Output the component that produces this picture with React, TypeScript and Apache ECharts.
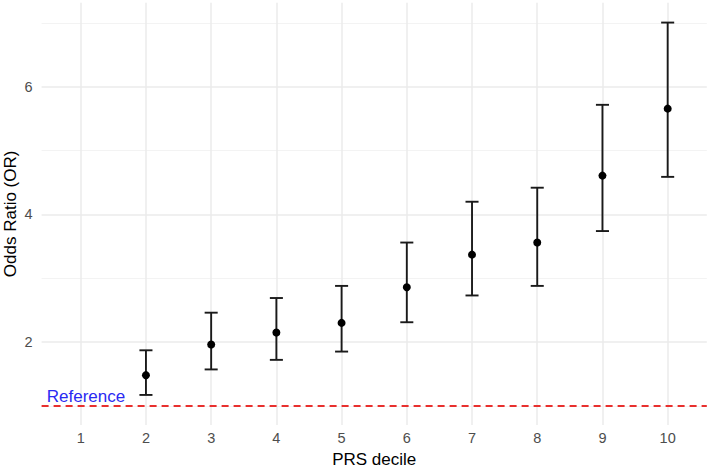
import React, { useEffect, useRef } from 'react';
import * as echarts from 'echarts';

// Categories (PRS deciles) shown on the x axis
const deciles = [1, 2, 3, 4, 5, 6, 7, 8, 9, 10];
// Deciles with an estimate (decile 1 is the reference)
const estDeciles = [2, 3, 4, 5, 6, 7, 8, 9, 10];
const orValues = [1.48, 1.96, 2.15, 2.3, 2.86, 3.37, 3.56, 4.61, 5.66];
const ciLower = [1.17, 1.57, 1.72, 1.85, 2.31, 2.73, 2.88, 3.74, 4.59];
const ciUpper = [1.87, 2.46, 2.69, 2.88, 3.56, 4.2, 4.42, 5.72, 7.01];
// Tick labels / gridlines on the y axis
const yMajorTicks = [2, 4, 6];
const yMinorTicks = [1, 3, 5, 7];
// Reference line and its annotation
const referenceOR = 1;
const referenceLabelPos = [1.08, 1.15];
const referenceLabelText = 'Reference';

const FONT = "'Liberation Sans', Arial, Helvetica, sans-serif";

export default function App() {
  const ref = useRef<HTMLDivElement>(null);

  useEffect(() => {
    document.body.style.margin = '0';
    const chart = echarts.init(ref.current!, undefined, { renderer: 'svg' });

    const gridLines: any[] = [
      ...yMinorTicks.map((v) => ({ yAxis: v, lineStyle: { color: '#f3f3f3', width: 1, type: 'solid' } })),
      ...yMajorTicks.map((v) => ({ yAxis: v, lineStyle: { color: '#ebebeb', width: 1.5, type: 'solid' } })),
      ...deciles.map((v) => ({ xAxis: v, lineStyle: { color: '#ebebeb', width: 1.5, type: 'solid' } })),
    ];

    const option: any = {
      animation: false,
      textStyle: { fontFamily: FONT },
      grid: {
        left: 41.6,
        top: 2.8,
        width: 665.2,
        height: 422.1,
        containLabel: false,
        outerBoundsMode: 'none',
      },
      xAxis: {
        type: 'value',
        min: 0.4,
        max: 10.6,
        name: 'PRS decile',
        nameLocation: 'middle',
        nameGap: 26,
        nameMoveOverlap: false,
        nameTextStyle: { color: '#000', fontSize: 17, fontFamily: FONT },
        axisLine: { show: false },
        axisTick: { show: false, customValues: deciles },
        splitLine: { show: false },
        axisLabel: {
          customValues: deciles,
          color: '#4d4d4d',
          fontSize: 14.5,
          margin: 6,
          fontFamily: FONT,
        },
      },
      yAxis: {
        type: 'value',
        min: 0.7,
        max: 7.32,
        name: 'Odds Ratio (OR)',
        nameLocation: 'middle',
        nameGap: 23,
        nameMoveOverlap: false,
        nameTextStyle: { color: '#000', fontSize: 17, fontFamily: FONT },
        axisLine: { show: false },
        axisTick: { show: false, customValues: yMajorTicks },
        splitLine: { show: false },
        axisLabel: {
          customValues: yMajorTicks,
          color: '#4d4d4d',
          fontSize: 14.5,
          margin: 9,
          fontFamily: FONT,
        },
      },
      series: [
        {
          type: 'scatter',
          data: [],
          z: 0,
          silent: true,
          markLine: {
            z: 0,
            silent: true,
            symbol: 'none',
            label: { show: false },
            animation: false,
            data: gridLines,
          },
        },
        {
          type: 'scatter',
          data: [],
          z: 1,
          silent: true,
          markLine: {
            z: 1,
            silent: true,
            symbol: 'none',
            label: { show: false },
            animation: false,
            data: [{ yAxis: referenceOR }],
            lineStyle: { color: '#e8302e', width: 1.8, type: [7, 5] },
          },
        },
        {
          type: 'custom',
          z: 3,
          silent: true,
          data: estDeciles.map((d, i) => [d, ciLower[i], ciUpper[i]]),
          renderItem: (params: any, api: any) => {
            const x = api.value(0);
            const lo = api.coord([x, api.value(1)]);
            const hi = api.coord([x, api.value(2)]);
            const half = api.size([0.1, 0])[0];
            const style = { stroke: '#1a1a1a', lineWidth: 1.9 };
            return {
              type: 'group',
              children: [
                { type: 'line', shape: { x1: lo[0], y1: lo[1], x2: hi[0], y2: hi[1] }, style },
                { type: 'line', shape: { x1: hi[0] - half, y1: hi[1], x2: hi[0] + half, y2: hi[1] }, style },
                { type: 'line', shape: { x1: lo[0] - half, y1: lo[1], x2: lo[0] + half, y2: lo[1] }, style },
              ],
            };
          },
        },
        {
          type: 'scatter',
          z: 4,
          silent: true,
          symbol: 'circle',
          symbolSize: 8,
          itemStyle: { color: '#000', opacity: 1 },
          data: estDeciles.map((d, i) => [d, orValues[i]]),
        },
        {
          type: 'custom',
          z: 5,
          silent: true,
          data: [referenceLabelPos],
          renderItem: (params: any, api: any) => {
            const p = api.coord([api.value(0), api.value(1)]);
            return {
              type: 'text',
              x: p[0],
              y: p[1],
              style: {
                text: referenceLabelText,
                fill: '#2a2af2',
                font: `17px ${FONT}`,
                align: 'center',
                verticalAlign: 'middle',
              },
            };
          },
        },
      ],
    };

    chart.setOption(option);
    return () => chart.dispose();
  }, []);

  return (
    <div
      ref={ref}
      style={{ position: 'fixed', left: 0, top: 0, width: 714, height: 472, background: '#fff' }}
    />
  );
}
